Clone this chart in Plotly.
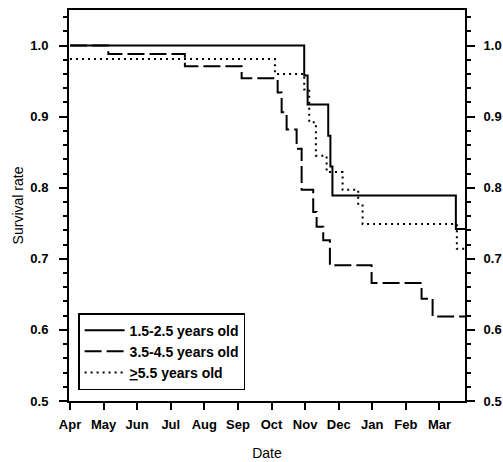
import plotly.graph_objects as go

# Month index: 0 = Apr ... 11 = Mar
month_labels = ["Apr", "May", "Jun", "Jul", "Aug", "Sep", "Oct", "Nov", "Dec", "Jan", "Feb", "Mar"]
month_ticks = list(range(12))

# 1.5-2.5 years old (step function, held until next x)
young_x = [0.0, 6.973, 7.074, 7.688, 7.753, 7.813, 11.488, 11.76]
young_y = [1.000, 0.958, 0.917, 0.873, 0.830, 0.789, 0.742, 0.742]

# 3.5-4.5 years old
mid_x = [0.0, 1.14, 3.42, 5.11, 6.182, 6.301, 6.449, 6.747, 6.896, 7.241, 7.342, 7.539, 7.738, 8.979, 10.467, 10.795, 11.76]
mid_y = [1.000, 0.988, 0.971, 0.954, 0.934, 0.906, 0.882, 0.855, 0.797, 0.766, 0.745, 0.726, 0.691, 0.666, 0.644, 0.619, 0.619]

# >=5.5 years old
old_x = [0.0, 6.101, 6.973, 7.122, 7.321, 7.640, 8.116, 8.580, 8.711, 11.518, 11.76]
old_y = [0.981, 0.960, 0.938, 0.892, 0.845, 0.822, 0.797, 0.775, 0.749, 0.714, 0.714]

y_ticks = [0.5, 0.6, 0.7, 0.8, 0.9, 1.0]
y_tick_text = ["0.5", "0.6", "0.7", "0.8", "0.9", "1.0"]

FONT = "Liberation Sans, Arial, sans-serif"
TICKFONT = dict(family=FONT, size=13, color="black", weight="bold")

fig = go.Figure()
fig.add_trace(go.Scatter(x=young_x, y=young_y, mode="lines", line_shape="hv",
                         name="1.5-2.5 years old",
                         line=dict(color="black", width=2, dash="solid")))
fig.add_trace(go.Scatter(x=mid_x, y=mid_y, mode="lines", line_shape="hv",
                         name="3.5-4.5 years old",
                         line=dict(color="black", width=2, dash="17px,5px")))
fig.add_trace(go.Scatter(x=old_x, y=old_y, mode="lines", line_shape="hv",
                         name="<u>></u>5.5 years old",
                         line=dict(color="black", width=2, dash="2px,4px")))
# right-hand mirror axis carrier (invisible)
fig.add_trace(go.Scatter(x=young_x, y=young_y, yaxis="y2", mode="lines",
                         line=dict(color="rgba(0,0,0,0)", width=0),
                         showlegend=False, hoverinfo="skip"))

yaxis_common = dict(
    range=[0.5, 1.05], tickvals=y_ticks, ticktext=y_tick_text,
    showline=True, linecolor="black", linewidth=2,
    ticks="outside", ticklen=8, tickwidth=2, tickcolor="black",
    minor=dict(dtick=0.02, ticks="outside", ticklen=4, tickwidth=1.5, tickcolor="black"),
    showgrid=False, zeroline=False, automargin=False,
    tickfont=TICKFONT,
)

fig.update_layout(
    width=503, height=462,
    margin=dict(l=69, r=38, t=10, b=61, autoexpand=False),
    paper_bgcolor="white", plot_bgcolor="white",
    font=dict(family=FONT, size=14, color="black"),
    xaxis=dict(
        range=[-0.03, 11.76], tickvals=month_ticks, ticktext=month_labels,
        showline=True, linecolor="black", linewidth=2, mirror=True,
        ticks="outside", ticklen=7, tickwidth=2, tickcolor="black",
        showgrid=False, zeroline=False, automargin=False,
        tickfont=TICKFONT, ticklabelstandoff=3,
        title=dict(text="Date", font=dict(family=FONT, size=14, color="black"), standoff=18),
    ),
    yaxis=dict(
        **yaxis_common, ticklabelstandoff=8,
        title=dict(text="Survival rate", font=dict(family=FONT, size=14, color="black"), standoff=3),
    ),
    yaxis2=dict(**yaxis_common, overlaying="y", side="right", ticklabelstandoff=6),
    legend=dict(
        x=0.023, y=0.028, xanchor="left", yanchor="bottom",
        bgcolor="white", bordercolor="black", borderwidth=1.5,
        font=dict(family=FONT, size=14, color="black", weight="bold"),
        tracegroupgap=0, itemwidth=40,
    ),
    showlegend=True,
)

fig.write_html("out.html", config={"displayModeBar": False},
               post_script="document.body.style.margin='0';")
